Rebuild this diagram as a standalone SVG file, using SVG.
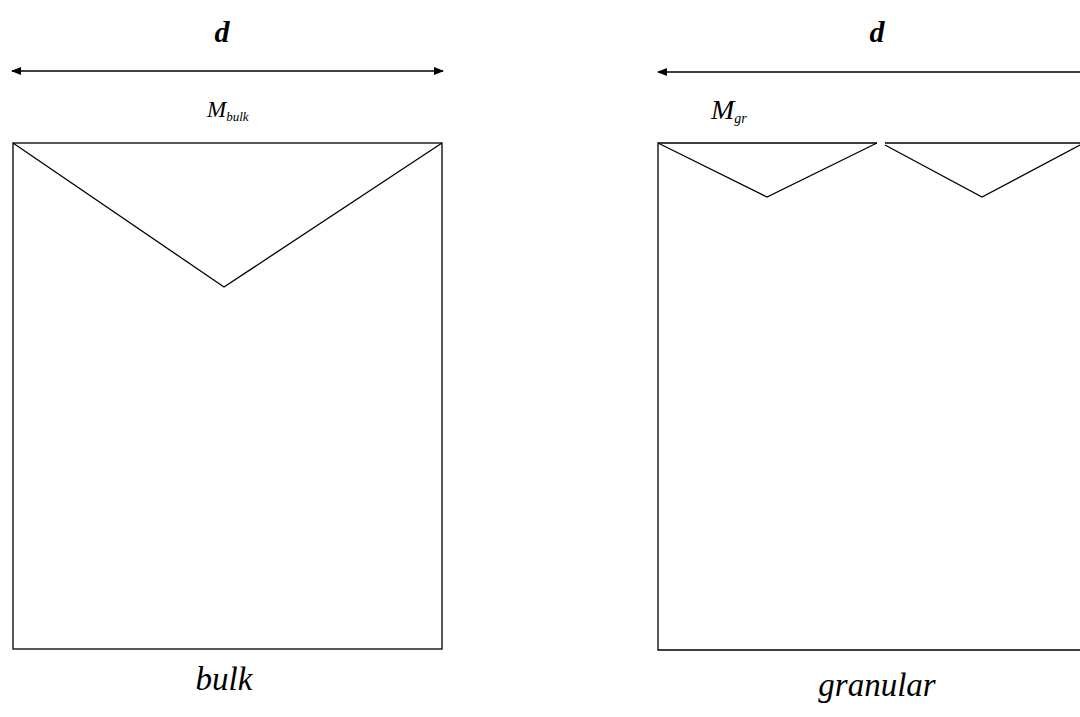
<svg xmlns="http://www.w3.org/2000/svg" width="1080" height="717" viewBox="0 0 1080 717">
<style>
.ln{fill:none;stroke:#000;stroke-width:1.3}
.lbl{font-family:"Liberation Serif",serif;font-style:italic;fill:#000}
</style>
<defs>
<marker id="ah" viewBox="0 0 10 10" refX="9" refY="5" markerWidth="10" markerHeight="10" markerUnits="userSpaceOnUse" orient="auto-start-reverse">
<path d="M0,1 L10,5 L0,9 Z" fill="#000"/>
</marker>
</defs>
<rect width="1080" height="717" fill="#fff"/>
<g id="bulk">
<rect class="ln" x="13" y="143" width="429" height="506"/>
<polyline class="ln" points="13,143 224,287 442,143"/>
<text class="lbl" x="207" y="117" font-size="23">M<tspan font-size="13" dy="4">bulk</tspan></text>
<text class="lbl" x="224" y="690" font-size="33" text-anchor="middle">bulk</text>
</g>
<g id="granular">
<polyline class="ln" points="1080,650 658,650 658,143 877,143"/>
<line class="ln" x1="885" y1="143" x2="1080" y2="143"/>
<polyline class="ln" points="658,143 767,197 877,143"/>
<polyline class="ln" points="885,145 982,197 1080,145"/>
<text class="lbl" x="711" y="119" font-size="28">M<tspan font-size="14" dy="4">gr</tspan></text>
<text class="lbl" x="877" y="696" font-size="33" text-anchor="middle">granular</text>
</g>
<g id="connectors">
<line class="ln" x1="12" y1="71" x2="443" y2="71" marker-start="url(#ah)" marker-end="url(#ah)"/>
<line class="ln" x1="658" y1="72" x2="1080" y2="72" marker-start="url(#ah)"/>
<text class="lbl" x="222" y="42" font-size="30" font-weight="bold" text-anchor="middle">d</text>
<text class="lbl" x="877" y="42" font-size="30" font-weight="bold" text-anchor="middle">d</text>
</g>
</svg>
